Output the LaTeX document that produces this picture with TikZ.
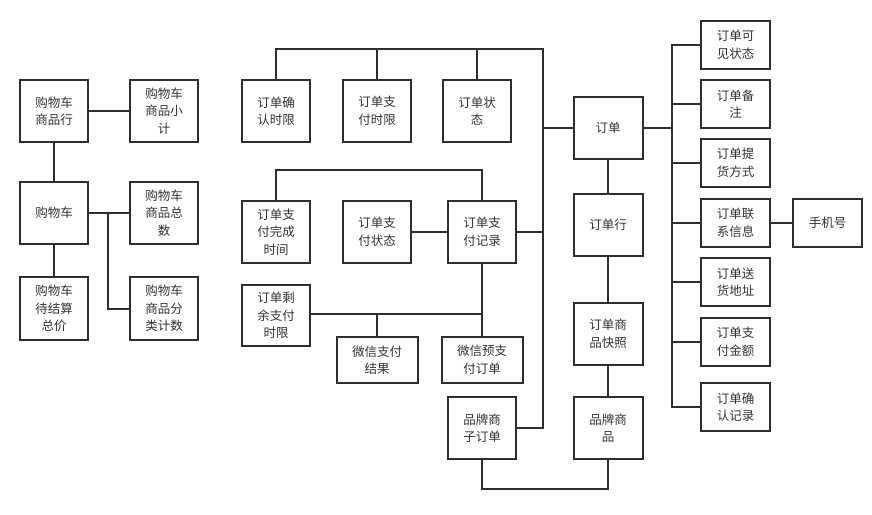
\documentclass[tikz,border=0pt]{standalone}
\usepackage{fontspec}
\setmainfont{Noto Sans CJK SC}
\definecolor{ink}{HTML}{2E2E2E}
\definecolor{txt}{HTML}{333333}
\begin{document}
\begin{tikzpicture}[x=1pt,y=-1pt,
  box/.style={draw=ink,line width=2pt,fill=white,inner sep=0pt,align=center,
    minimum width=68pt,minimum height=62pt,text=txt,
    font=\fontsize{12.5}{17.5}\selectfont},
  rbox/.style={box,minimum width=69pt,minimum height=48pt},
  wbox/.style={box,minimum width=81pt,minimum height=46pt},
  link/.style={draw=ink,line width=2pt}]
\useasboundingbox (0,0) rectangle (872,514);
% left group
\node[box] (cA) at (54,111) {购物车\\商品行};
\node[box] (cB) at (164,111) {购物车\\商品小\\计};
\node[box] (cC) at (54,213) {购物车};
\node[box] (cD) at (164,213) {购物车\\商品总\\数};
\node[box,minimum height=63pt] (cE) at (54,308.5) {购物车\\待结算\\总价};
\node[box,minimum height=63pt] (cF) at (164,308.5) {购物车\\商品分\\类计数};
\coordinate (jC) at (108,213);
\draw[link] (cA.east) -- (cB.west);
\draw[link] (cA.south) -- (cC.north);
\draw[link] (cC.east) -- (cD.west);
\draw[link] (jC) |- (cF.west);
\draw[link] (cC.south) -- (cE.north);
% middle group
\node[box] (m1) at (276,111) {订单确\\认时限};
\node[box] (m2) at (377,111) {订单支\\付时限};
\node[box] (m3) at (477,111) {订单状\\态};
\node[box] (m4) at (276,232) {订单支\\付完成\\时间};
\node[box] (m5) at (377,232) {订单支\\付状态};
\node[box] (m6) at (482,232) {订单支\\付记录};
\node[box,minimum height=61pt] (m7) at (276,315.5) {订单剩\\余支付\\时限};
\node[wbox] (m8) at (377,360) {微信支付\\结果};
\node[wbox] (m9) at (482,360) {微信预支\\付订单};
\node[box] (m10) at (482,428) {品牌商\\子订单};
% order column
\node[box,minimum width=69pt] (o1) at (608,128) {订单};
\node[box,minimum width=69pt] (o2) at (608,224.5) {订单行};
\node[box,minimum width=69pt] (o3) at (608,334) {订单商\\品快照};
\node[box,minimum width=69pt] (o4) at (608,428) {品牌商\\品};
% right group
\node[rbox] (r1) at (735.5,45) {订单可\\见状态};
\node[rbox] (r2) at (735.5,104) {订单备\\注};
\node[rbox] (r3) at (735.5,163) {订单提\\货方式};
\node[rbox] (r4) at (735.5,223) {订单联\\系信息};
\node[rbox] (r5) at (735.5,282) {订单送\\货地址};
\node[rbox] (r6) at (735.5,342) {订单支\\付金额};
\node[rbox] (r7) at (735.5,407) {订单确\\认记录};
\node[rbox] (ph) at (827.5,223) {手机号};
% top bus and trunk
\coordinate (t) at (543,49);
\draw[link] (m1.north) |- (t) |- (m10.east);
\draw[link] (m2.north) -- (m2.north |- t);
\draw[link] (m3.north) -- (m3.north |- t);
\draw[link] (t |- o1.west) -- (o1.west);
\draw[link] (m6.east) -- (m6.east -| t);
% payment record links
\draw[link] (m4.north) -- ++(0,-30) -| (m6.north);
\draw[link] (m5.east) -- (m6.west);
\draw[link] (m6.south) -- (m9.north);
\coordinate (j7) at (310,314);
\draw[link] (j7) -- (j7 -| m6.south);
\draw[link] (m8.north) -- (m8.north |- j7);
% sub order to brand goods
\draw[link] (m10.south) -- ++(0,29) -| (o4.south);
\draw[link] (o1.south) -- (o2.north);
\draw[link] (o2.south) -- (o3.north);
\draw[link] (o3.south) -- (o4.north);
% right trunk
\coordinate (rt) at (672,45);
\draw[link] (o1.east) -- (o1.east -| rt);
\draw[link] (r1.west) -- (rt) |- (r7.west);
\draw[link] (r2.west) -- (r2.west -| rt);
\draw[link] (r3.west) -- (r3.west -| rt);
\draw[link] (r4.west) -- (r4.west -| rt);
\draw[link] (r5.west) -- (r5.west -| rt);
\draw[link] (r6.west) -- (r6.west -| rt);
\draw[link] (r4.east) -- (ph.west);
\end{tikzpicture}
\end{document}
